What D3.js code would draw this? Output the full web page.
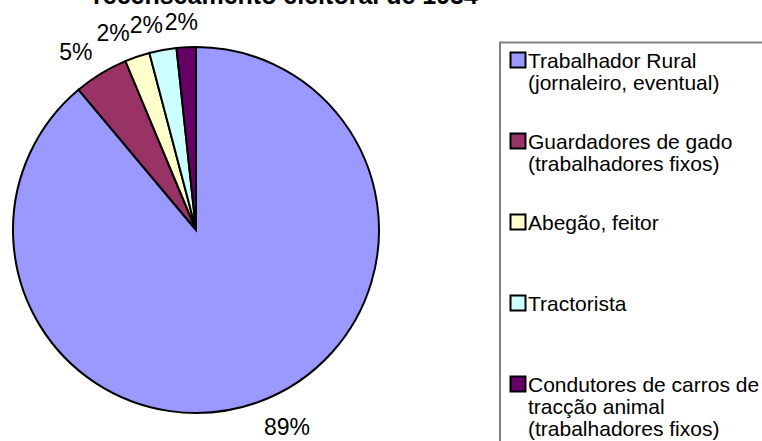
<!DOCTYPE html>
<html lang="pt">
<head>
  <meta charset="UTF-8" />
  <title>Recenseamento eleitoral – profissões</title>
  <script src="https://d3js.org/d3.v7.min.js"></script>
  <style>
    body {
      margin: 0;
      background: #ffffff;
      font-family: "Liberation Sans", Arial, sans-serif;
    }
    svg {
      display: block;
    }
    .title {
      font-size: 25px;
      font-weight: bold;
      fill: #000;
    }
    .slice {
      stroke: #000;
      stroke-width: 2;
    }
    .pct {
      font-size: 23px;
      fill: #000;
    }
    .legend-box {
      fill: #fff;
      stroke: #808080;
      stroke-width: 2;
    }
    .legend-text {
      font-size: 21px;
      fill: #000;
    }
  </style>
</head>
<body>
<svg id="chart"></svg>
<script>
// data
const categories = [
  "Trabalhador Rural (jornaleiro, eventual)",
  "Guardadores de gado (trabalhadores fixos)",
  "Abegão, feitor",
  "Tractorista",
  "Condutores de carros de tracção animal (trabalhadores fixos)"
];
const values = [88.9, 4.8, 2.2, 2.4, 1.7];
const colors = ["#9999ff", "#993366", "#ffffcc", "#ccffff", "#660066"];
const titleText = "recenseamento eleitoral de 1934";

const width = 762, height = 441;
const cx = 196, cy = 230, radius = 183;

const svg = d3.select("#chart").attr("width", width).attr("height", height);

svg.append("rect").attr("width", width).attr("height", height).attr("fill", "#fff");

// title (only its last line is visible, the rest sits above the frame)
svg.append("text")
  .attr("class", "title")
  .attr("x", 93)
  .attr("y", 4)
  .text(titleText);

const data = categories.map((c, i) => ({ name: c, value: values[i], color: colors[i] }));
const total = d3.sum(values);

const pie = d3.pie().sort(null).value(d => d.value);
const arcs = pie(data);
const arc = d3.arc().innerRadius(0).outerRadius(radius);

const g = svg.append("g").attr("transform", `translate(${cx},${cy})`);

g.selectAll("path")
  .data(arcs)
  .join("path")
  .attr("class", "slice")
  .attr("fill", d => d.data.color)
  .attr("d", arc);

// percentage labels, placed outside the rim like Excel does
const fmt = d => Math.round(d.data.value / total * 100) + "%";
const gap = 16, boxH = 20;
const labels = g.selectAll("text.pct")
  .data(arcs)
  .join("text")
  .attr("class", "pct")
  .attr("text-anchor", "middle")
  .text(fmt);

const boxes = [];
labels.each(function (d) {
  const w = this.getComputedTextLength();
  const a = (d.startAngle + d.endAngle) / 2;
  const s = Math.sin(a), c = Math.cos(a);
  const r = radius + gap;
  const side = Math.max(-1, Math.min(1, s * 4.5));
  boxes.push({ node: this, w, x: s * r + side * w / 2, y: -c * r - c * boxH / 2 });
});

// push overlapping labels leftwards, from the rightmost one
const topRow = boxes.filter(b => b.y < -radius).sort((a, b) => b.x - a.x);
for (let i = 1; i < topRow.length; i++) {
  const prev = topRow[i - 1], cur = topRow[i];
  const limit = prev.x - prev.w / 2;
  if (cur.x + cur.w / 2 > limit) cur.x = limit - cur.w / 2;
}
boxes.forEach(b => {
  d3.select(b.node).attr("x", b.x).attr("y", b.y + 8.5);
});

// legend
const legend = svg.append("g");
legend.append("rect")
  .attr("class", "legend-box")
  .attr("x", 500)
  .attr("y", 42.5)
  .attr("width", 300)
  .attr("height", 450);

const rowY = d3.scalePoint().domain(categories).range([52, 376]);
const wrapWidth = 235, lineH = 22;

const item = legend.selectAll("g.item")
  .data(data)
  .join("g")
  .attr("class", "item")
  .attr("transform", d => `translate(510,${rowY(d.name)})`);

item.append("rect")
  .attr("width", 15)
  .attr("height", 15)
  .attr("x", 0.5)
  .attr("y", 0.5)
  .attr("fill", d => d.color)
  .attr("stroke", "#000")
  .attr("stroke-width", 2);

item.append("text")
  .attr("class", "legend-text")
  .attr("x", 18)
  .attr("y", 15.5)
  .each(function (d) {
    const text = d3.select(this);
    const words = d.name.split(" ");
    let line = [];
    let tspan = text.append("tspan").attr("x", 18).attr("dy", 0);
    words.forEach(w => {
      line.push(w);
      tspan.text(line.join(" "));
      if (tspan.node().getComputedTextLength() > wrapWidth && line.length > 1) {
        line.pop();
        tspan.text(line.join(" "));
        line = [w];
        tspan = text.append("tspan").attr("x", 18).attr("dy", lineH).text(w);
      }
    });
  });
</script>
</body>
</html>
